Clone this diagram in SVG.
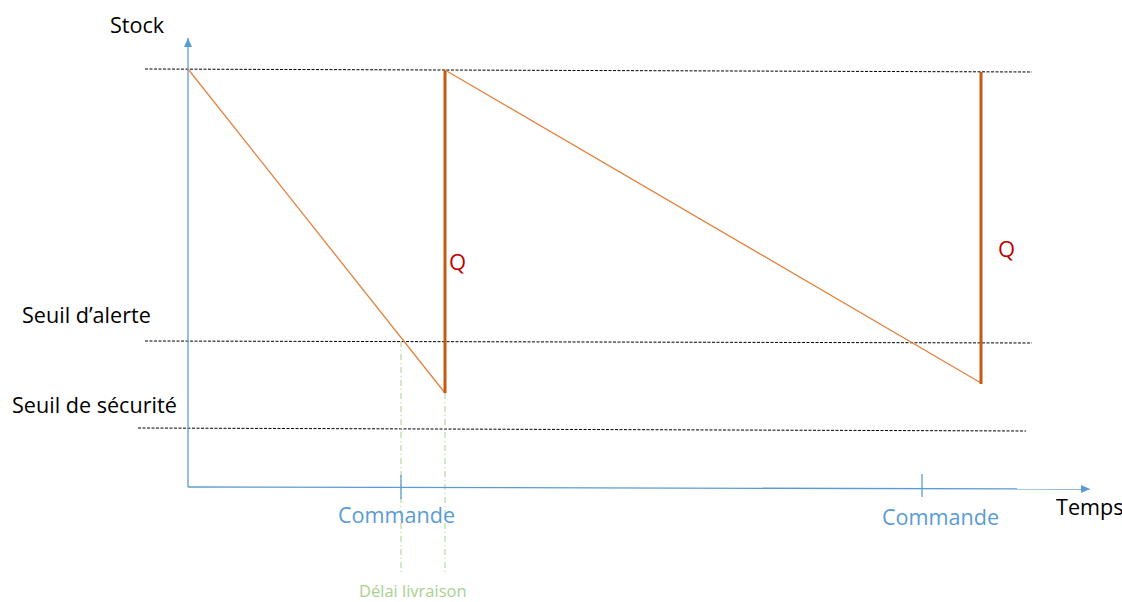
<svg xmlns="http://www.w3.org/2000/svg" width="1122" height="602" viewBox="0 0 1122 602">
<style>
.lbl{font-family:"Open Sans","Liberation Sans",sans-serif;font-size:21.6px;fill:#000}
.blue{font-family:"Open Sans","Liberation Sans",sans-serif;font-size:21.6px;fill:#5B9BD5}
.green{font-family:"Open Sans","Liberation Sans",sans-serif;font-size:16.5px;fill:#A9D18E}
.q{font-family:"Open Sans","Liberation Sans",sans-serif;font-size:22px;fill:#C00000}
.dash{stroke:#000;stroke-width:1;stroke-dasharray:3 1.5;fill:none}
.axis{stroke:#5B9BD5;stroke-width:1.3;fill:none}
.thin{stroke:#E3803F;stroke-width:1.3;fill:none}
.thick{stroke:#C55A11;stroke-width:3;fill:none}
.dd{stroke:#A9D18E;stroke-width:1;stroke-dasharray:6 3 1 3;fill:none}
</style>
<defs>
<marker id="ah" markerWidth="10" markerHeight="10" refX="9" refY="5" orient="auto" markerUnits="userSpaceOnUse">
<path d="M0,1 L9,5 L0,9 Z" fill="#5B9BD5"/>
</marker>
</defs>
<g id="connectors">
<line class="dash" x1="145" y1="69" x2="1032" y2="72"/>
<line class="dash" x1="145" y1="341" x2="1032" y2="343"/>
<line class="dash" x1="138" y1="428" x2="1026" y2="431"/>
<line class="dd" x1="401" y1="341" x2="401" y2="575"/>
<line class="dd" x1="445" y1="393" x2="445" y2="575"/>
<line class="axis" x1="188" y1="487" x2="188" y2="38" marker-end="url(#ah)"/>
<line class="axis" x1="188" y1="487" x2="1090" y2="489" marker-end="url(#ah)"/>
<line class="axis" x1="401" y1="475" x2="401" y2="499"/>
<line class="axis" x1="922" y1="474" x2="922" y2="497"/>
<line class="thin" x1="188" y1="69" x2="445" y2="393"/>
<line class="thick" x1="445" y1="393" x2="445" y2="70"/>
<line class="thin" x1="445" y1="70" x2="981" y2="383"/>
<line class="thick" x1="981" y1="384" x2="981" y2="72"/>
</g>
<g id="labels">
<text class="lbl" x="110" y="33">Stock</text>
<text class="lbl" x="22" y="323">Seuil d’alerte</text>
<text class="lbl" x="12" y="413">Seuil de sécurité</text>
<text class="lbl" x="1056" y="515">Temps</text>
<text class="blue" x="338" y="523">Commande</text>
<text class="blue" x="882" y="525">Commande</text>
<text class="green" x="359" y="597">Délai livraison</text>
<text class="q" x="449" y="270">Q</text>
<text class="q" x="998" y="257">Q</text>
</g>
</svg>
